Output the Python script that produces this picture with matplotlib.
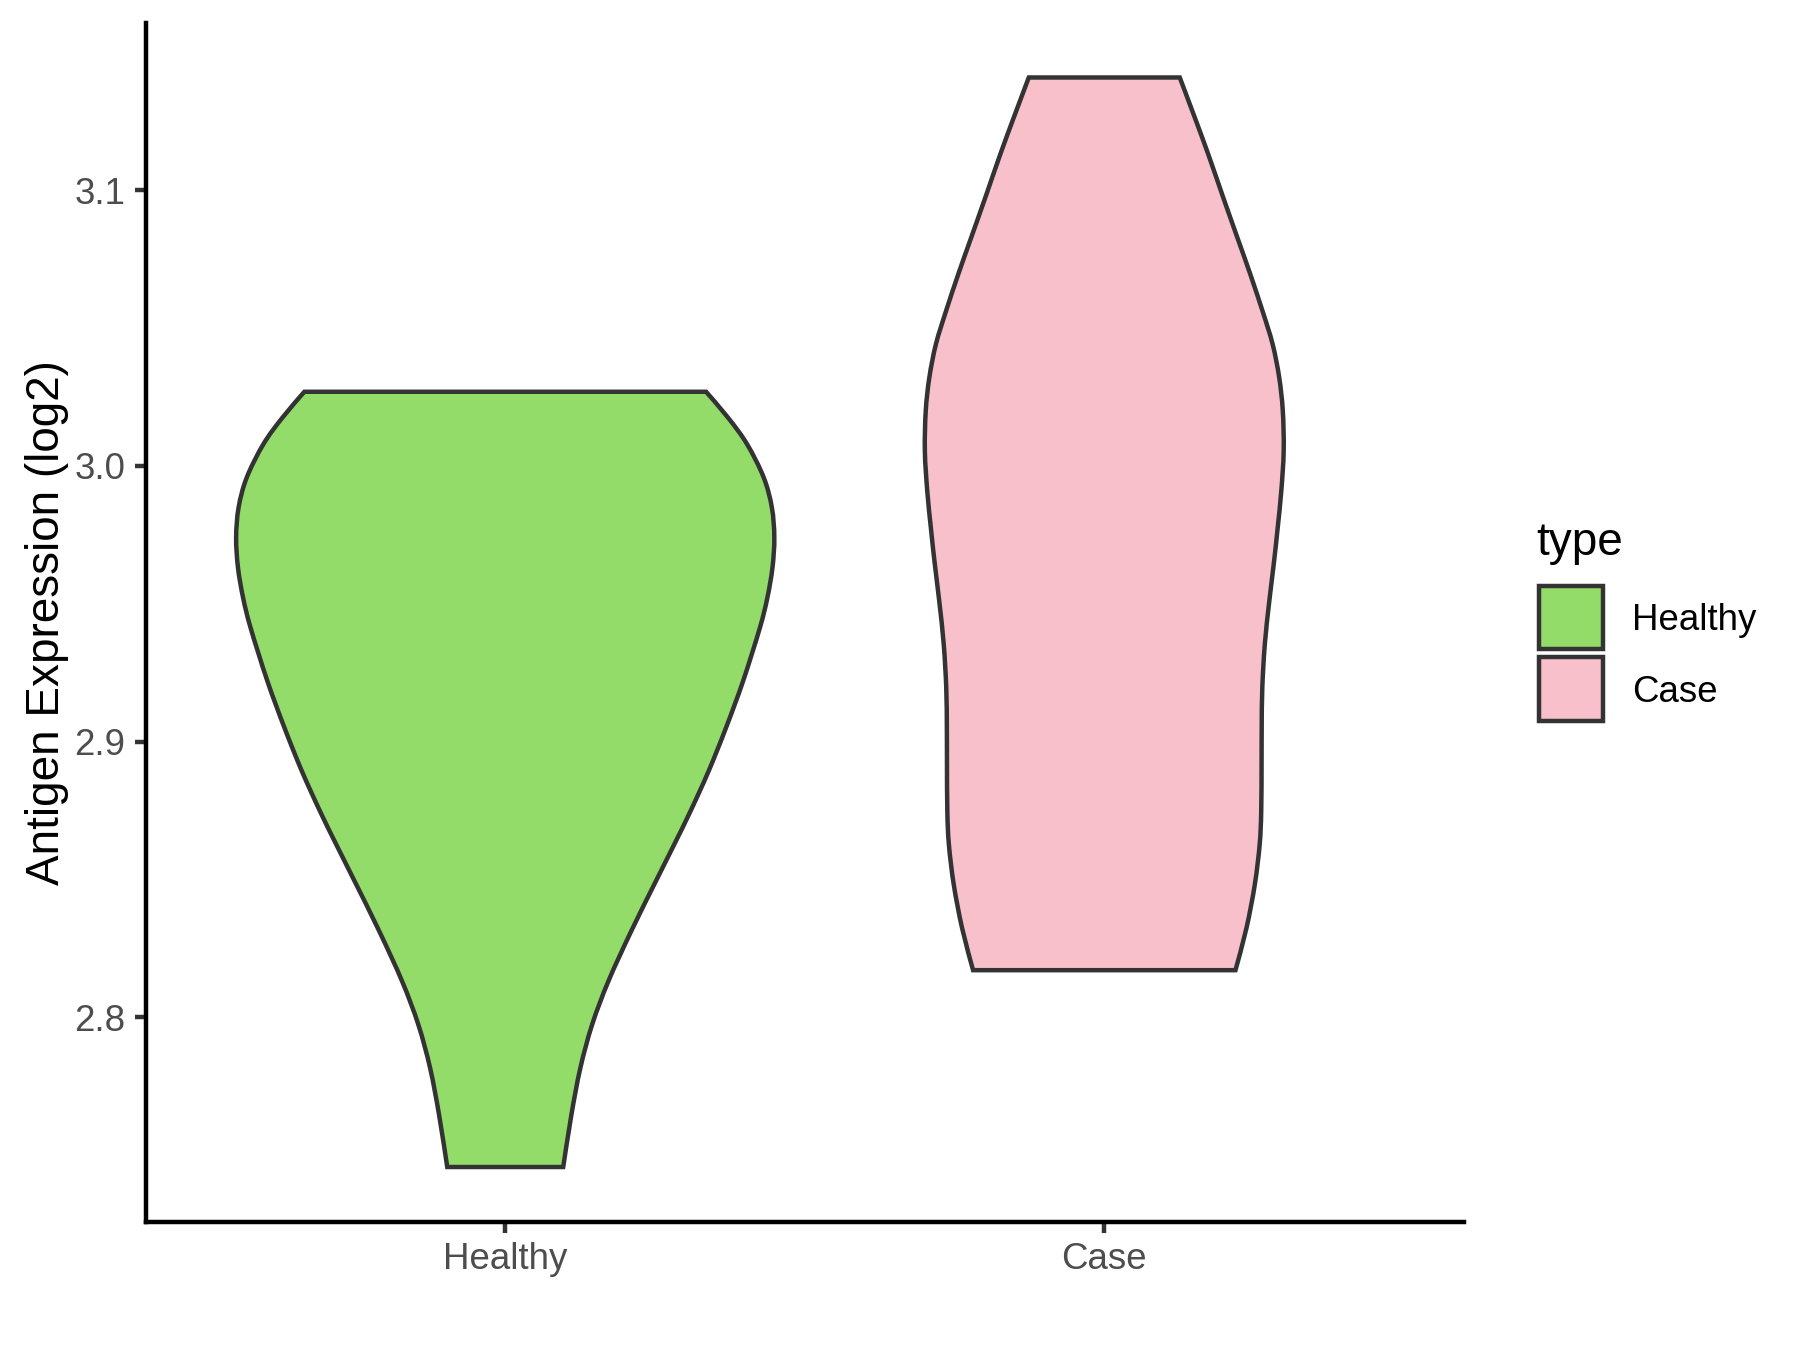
import numpy as np
import matplotlib
matplotlib.use("Agg")
import matplotlib.pyplot as plt
from matplotlib.path import Path
from matplotlib.patches import PathPatch, Rectangle

plt.rcParams['font.family'] = ['Liberation Sans', 'DejaVu Sans']

# data
categories = ["Healthy", "Case"]
fill_colors = ["#94DC6A", "#F7C0CB"]

healthy_y = [2.7457, 2.7647, 2.7816, 2.7973, 2.8131, 2.8312, 2.8494, 2.8627, 2.8748,
             2.8893, 2.905, 2.922, 2.9413, 2.9522, 2.9631, 2.974, 2.9849, 2.9958,
             3.0079, 3.0175, 3.0269]
healthy_halfwidth = [0.0968, 0.1105, 0.1254, 0.1450, 0.1722, 0.2102, 0.2515, 0.2821, 0.3093,
                     0.3395, 0.3685, 0.3971, 0.4251, 0.4376, 0.4461, 0.4492, 0.4451, 0.4315,
                     0.4037, 0.3720, 0.3353]

case_y = [2.8171, 2.8324, 2.8482, 2.8627, 2.8748, 2.8929, 2.905, 2.9195, 2.9353, 2.951,
          2.9655, 2.9776, 2.9909, 3.0054, 3.02, 3.0321, 3.0442, 3.0563, 3.07, 3.0817,
          3.0974, 3.1131, 3.1277, 3.1409]
case_halfwidth = [0.2190, 0.2374, 0.2513, 0.2594, 0.2620, 0.2626, 0.2628, 0.2638, 0.2680,
                  0.2755, 0.2835, 0.2895, 0.2955, 0.2995, 0.2980, 0.2920, 0.2810, 0.2640,
                  0.2430, 0.2240, 0.1985, 0.1735, 0.1488, 0.1260]

y_ticks = [2.8, 2.9, 3.0, 3.1]
y_label = "Antigen Expression (log2)"
legend_title = "type"

LW = 1.07
EDGE = "#333333"


def curve_verts(pts):
    # catmull-rom through the read points, as cubic bezier pieces
    pts = np.asarray(pts, dtype=float)
    n = len(pts)
    out = []
    for i in range(n - 1):
        p0 = pts[i - 1] if i > 0 else pts[i]
        p1 = pts[i]
        p2 = pts[i + 1]
        p3 = pts[i + 2] if i + 2 < n else pts[i + 1]
        out += [p1 + (p2 - p0) / 6, p2 - (p3 - p1) / 6, p2]
    return out


def violin_patch(center, ys, ws, color):
    ys = np.asarray(ys)
    ws = np.asarray(ws)
    right = list(zip(center + ws, ys))
    left = list(zip(center - ws[::-1], ys[::-1]))
    verts = [(center - ws[0], ys[0]), (center + ws[0], ys[0])]
    codes = [Path.MOVETO, Path.LINETO]
    rv = curve_verts(right)
    verts += rv
    codes += [Path.CURVE4] * len(rv)
    verts.append((center - ws[-1], ys[-1]))
    codes.append(Path.LINETO)
    lv = curve_verts(left)
    verts += lv
    codes += [Path.CURVE4] * len(lv)
    verts.append((0, 0))
    codes.append(Path.CLOSEPOLY)
    return PathPatch(Path(verts, codes), facecolor=color, edgecolor=EDGE,
                     lw=LW, joinstyle='miter')


W, H = 1800, 1350
fig = plt.figure(figsize=(6, 4.5), dpi=300)
ax = fig.add_axes([145.8 / W, 1 - 1221.5 / H, (1463.7 - 145.8) / W, (1221.5 - 23) / H])

profiles = [(healthy_y, healthy_halfwidth), (case_y, case_halfwidth)]
for i, (ys, ws) in enumerate(profiles):
    ax.add_patch(violin_patch(i + 1, ys, ws, fill_colors[i]))

lo = min(min(healthy_y), min(case_y))
hi = max(max(healthy_y), max(case_y))
pad = 0.05 * (hi - lo)
ax.set_ylim(lo - pad, hi + pad)
ax.set_xlim(0.4, len(categories) + 0.6)

ax.set_xticks(range(1, len(categories) + 1))
ax.set_xticklabels(categories)
ax.set_yticks(y_ticks)
ax.set_yticklabels([f"{t:.1f}" for t in y_ticks])
ax.tick_params(direction='out', length=2.75, width=LW, color=EDGE,
               labelcolor="#4D4D4D", labelsize=8.8, pad=2.2)

for s in ['top', 'right']:
    ax.spines[s].set_visible(False)
for s in ['left', 'bottom']:
    ax.spines[s].set_linewidth(LW)
    ax.spines[s].set_color('black')

ax.set_ylabel(y_label, fontsize=11, color='black')
ax.yaxis.set_label_coords((69 - 145.8) / (1463.7 - 145.8), 0.5)


# legend, drawn by hand in figure pixels
def fx(px):
    return px / W


def fy(py):
    return 1 - py / H


fig.text(fx(1536.7), fy(555), legend_title, fontsize=11, ha='left', va='baseline')
key_left, key_top, key_pitch = 1537.0, 583.5, 71.5
for i, name in enumerate(categories):
    top = key_top + i * key_pitch
    inset = 2.2
    r = Rectangle((fx(key_left + inset), fy(top + key_pitch - 3.5 - inset)),
                  (key_pitch - 3.5 - 2 * inset) / W, (key_pitch - 3.5 - 2 * inset) / H,
                  transform=fig.transFigure, facecolor=fill_colors[i],
                  edgecolor=EDGE, lw=LW, joinstyle='miter')
    fig.add_artist(r)
    fig.text(fx(1631.7), fy(630 + i * key_pitch), name, fontsize=8.8,
             ha='left', va='baseline', color='black')

fig.savefig("out.png", dpi=300)
